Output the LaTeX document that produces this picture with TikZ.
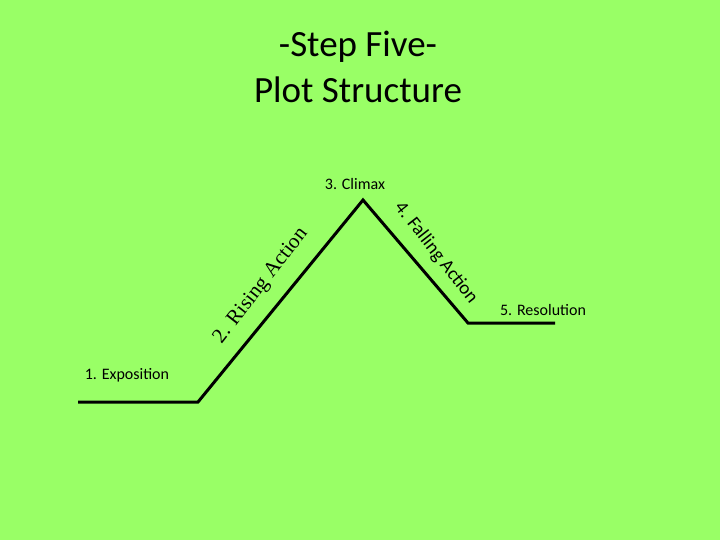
\documentclass[tikz,border=0pt]{standalone}
\usepackage{fontspec}
\setmainfont{Carlito}
\newfontfamily\serifx{Liberation Serif}
\definecolor{bg}{HTML}{99FF66}
\begin{document}
\begin{tikzpicture}[x=1pt,y=-1pt,
  plot/.style={line width=3pt,line join=miter},
  lbl/.style={font=\fontsize{16}{19}\selectfont,inner sep=0pt}]
\fill[bg] (0,0) rectangle (720,540);
\useasboundingbox (0,0) rectangle (720,540);
\node[font=\fontsize{37}{46}\selectfont,align=center,inner sep=0pt] (title) at (358,67) {-Step Five-\\Plot Structure};
\coordinate (a) at (78,402);
\coordinate (b) at (198,402);
\coordinate (c) at (363,200);
\coordinate (d) at (468,323);
\coordinate (e) at (555,323);
\draw[plot] (a) -- (b) -- (c) -- (d) -- (e);
\node[lbl] (expo) at (127,375) {1. Exposition};
\node[lbl] (clim) at (355,184) {3. Climax};
\node[lbl] (reso) at (543,310) {5. Resolution};
\node[font=\serifx\fontsize{21}{24}\selectfont,inner sep=0pt,rotate=52] (rise) at (261,286) {2. Rising Action};
\node[font=\fontsize{19}{22}\selectfont,inner sep=0pt,rotate=-52] (fall) at (436,253) {4. Falling Action};
\end{tikzpicture}
\end{document}
